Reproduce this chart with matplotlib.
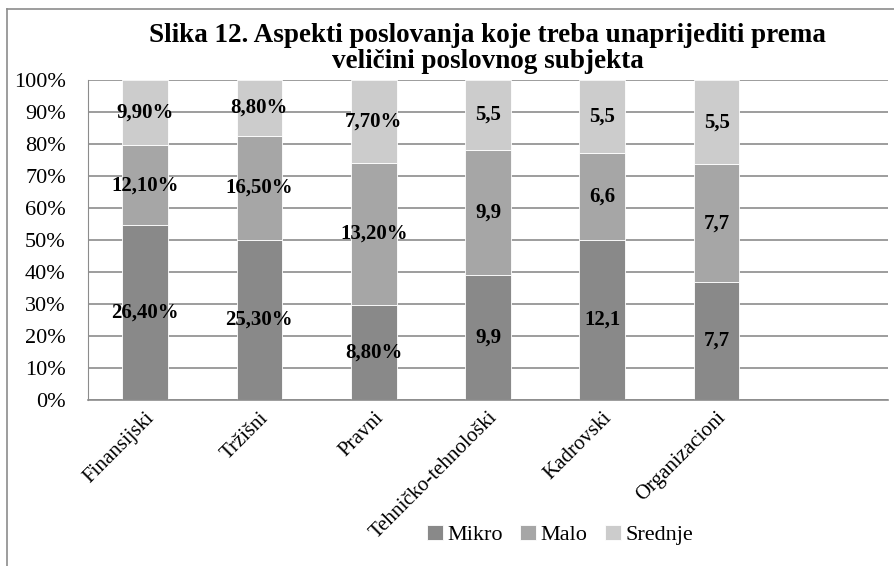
"""100% stacked bars: aspekti poslovanja po veličini subjekta."""

import matplotlib

matplotlib.use("Agg")
import matplotlib.pyplot as plt
import numpy as np

plt.rcParams["font.family"] = ["Liberation Serif", "DejaVu Serif"]

CATEGORIES = [
    "Finansijski",
    "Tržišni",
    "Pravni",
    "Tehničko-tehnološki",
    "Kadrovski",
    "Organizacioni",
    "",
]
SERIES = ["Mikro", "Malo", "Srednje"]
MIKRO = [26.4, 25.3, 8.8, 9.9, 12.1, 7.7]
MALO = [12.1, 16.5, 13.2, 9.9, 6.6, 7.7]
SREDNJE = [9.9, 8.8, 7.7, 5.5, 5.5, 5.5]
LABELS_MIKRO = ["26,40%", "25,30%", "8,80%", "9,9", "12,1", "7,7"]
LABELS_MALO = ["12,10%", "16,50%", "13,20%", "9,9", "6,6", "7,7"]
LABELS_SREDNJE = ["9,90%", "8,80%", "7,70%", "5,5", "5,5", "5,5"]

COLORS = ["#898989", "#a6a6a6", "#cccccc"]
GRID = "#8c8c8c"

W, H = 895, 566
fig = plt.figure(figsize=(W / 100, H / 100), dpi=100)
fig.patch.set_facecolor("white")

# chart outer border (cropped on right/bottom in the reference)
fig.add_artist(plt.Line2D([7 / W, 7 / W], [0, 1 - 9 / H], color=GRID, lw=1.2))
fig.add_artist(plt.Line2D([7 / W, 1], [1 - 9 / H, 1 - 9 / H], color=GRID, lw=1.2))

ax = fig.add_axes([88 / W, 1 - 400 / H, 800 / W, 320 / H])

values = np.array([MIKRO, MALO, SREDNJE])
totals = values.sum(axis=0)
shares = values / totals * 100
labels = [LABELS_MIKRO, LABELS_MALO, LABELS_SREDNJE]
x = np.arange(len(MIKRO))

bottom = np.zeros(len(MIKRO))
for i, name in enumerate(SERIES):
    ax.bar(x, shares[i], bottom=bottom, width=0.4, color=COLORS[i],
           edgecolor="white", linewidth=0.6, label=name, zorder=2)
    for xi, (b, h, lab) in enumerate(zip(bottom, shares[i], labels[i])):
        ax.text(xi, b + h / 2, lab, ha="center", va="center",
                fontsize=15, fontweight="bold", zorder=3)
    bottom += shares[i]

ax.set_xlim(-0.5, len(CATEGORIES) - 0.5)
ax.set_ylim(0, 100)
ax.set_yticks(np.arange(0, 101, 10))
ax.set_yticklabels([f"{v}%" for v in range(0, 101, 10)], fontsize=16)
ax.set_xticks(np.arange(len(CATEGORIES)))
ax.set_xticklabels(CATEGORIES, rotation=45, ha="right", va="top",
                   rotation_mode="anchor", fontsize=15)
ax.tick_params(axis="both", length=0, pad=6)
ax.tick_params(axis="y", pad=16)
ax.grid(axis="y", color=GRID, lw=1.2, zorder=0)
for side in ["top", "right"]:
    ax.spines[side].set_visible(False)
ax.spines["left"].set_color(GRID)
ax.spines["bottom"].set_color(GRID)
ax.spines["bottom"].set_linewidth(1.2)

fig.text(0.545, 1 - 35 / H, "Slika 12. Aspekti poslovanja koje treba unaprijediti prema",
         ha="center", va="center", fontsize=19.5, fontweight="bold")
fig.text(0.545, 1 - 62 / H, "veličini poslovnog subjekta",
         ha="center", va="center", fontsize=19.5, fontweight="bold")

fig.legend(loc="center", bbox_to_anchor=(560 / W, 1 - 535 / H), ncol=3,
           frameon=False, fontsize=16, handlelength=0.7, handleheight=0.7,
           handletextpad=0.2, columnspacing=0.8)

fig.savefig("out.png", dpi=100)
